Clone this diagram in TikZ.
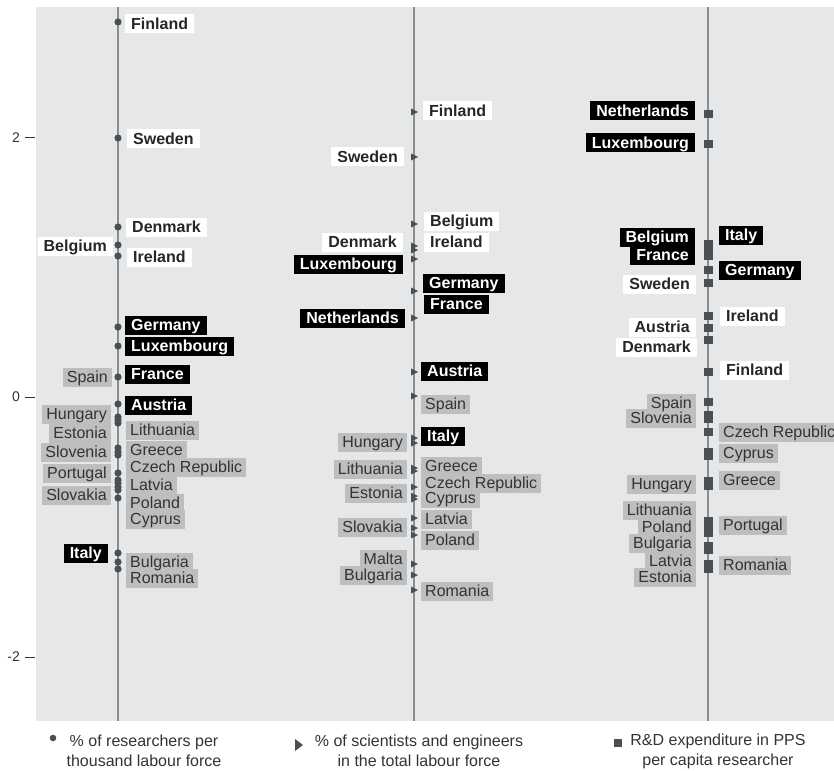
\documentclass[tikz,border=0pt]{standalone}
\usepackage{fontspec}
\setmainfont{Liberation Sans}
\definecolor{bg}{HTML}{E6E7E9}
\definecolor{axisc}{HTML}{8C8D8F}
\definecolor{mk}{HTML}{4A4F51}
\definecolor{gbox}{HTML}{BDBEC0}
\definecolor{dtext}{HTML}{262626}
\definecolor{gtext}{HTML}{333333}
\tikzset{
  lab/.style={inner ysep=1pt, text height=14pt, text depth=3pt},
  lbw/.style={lab, fill=white, inner xsep=6pt, text=dtext, font=\fontsize{16}{18}\selectfont\bfseries},
  lbk/.style={lab, fill=black, inner xsep=6pt, text=white, font=\fontsize{16}{18}\selectfont\bfseries},
  lbg/.style={lab, fill=gbox, inner xsep=4pt, text=gtext, font=\fontsize{16}{18}\selectfont},
  ticklab/.style={anchor=east, inner sep=0pt, text=gtext, font=\fontsize{14}{16}\selectfont},
  legend/.style={align=center, inner sep=0pt, text=gtext, font=\fontsize{16}{20}\selectfont},
  axisline/.style={axisc, line width=2.5pt},
}
\newcommand{\labelsA}{lbw/west/125/24/Finland, lbw/west/127/139/Sweden, lbw/west/126/227/Denmark, lbw/east/113/246/Belgium, lbw/west/127/257/Ireland, lbk/west/125/325/Germany, lbk/west/125/346/Luxembourg, lbk/west/125/374/France, lbg/east/112/377/Spain, lbk/west/125/405/Austria, lbg/east/111/414/Hungary, lbg/east/111/433/Estonia, lbg/west/126/430/Lithuania, lbg/east/111/452/Slovenia, lbg/west/126/450/Greece, lbg/west/126/467/Czech Republic, lbg/east/111/473/Portugal, lbg/west/126/485/Latvia, lbg/east/111/495/Slovakia, lbg/west/126/503/Poland, lbg/west/126/519/Cyprus, lbk/east/108/553/Italy, lbg/west/126/562/Bulgaria, lbg/west/126/578/Romania}
\newcommand{\labelsB}{lbw/west/423/111/Finland, lbw/east/404/157/Sweden, lbw/west/424/221/Belgium, lbw/west/424/242/Ireland, lbw/east/403/242/Denmark, lbk/east/403/264/Luxembourg, lbk/west/423/283/Germany, lbk/west/424/304/France, lbk/east/405/318/Netherlands, lbk/west/421/371/Austria, lbg/west/421/404/Spain, lbk/west/421/436/Italy, lbg/east/407/442/Hungary, lbg/east/407/469/Lithuania, lbg/west/421/466/Greece, lbg/west/421/483/Czech Republic, lbg/east/407/493/Estonia, lbg/west/421/498/Cyprus, lbg/west/421/519/Latvia, lbg/east/407/527/Slovakia, lbg/west/421/540/Poland, lbg/east/407/559/Malta, lbg/east/407/575/Bulgaria, lbg/west/421/591/Romania}
\newcommand{\labelsC}{lbk/east/695/111/Netherlands, lbk/east/695/143/Luxembourg, lbk/east/695/237/Belgium, lbk/east/695/255/France, lbk/west/719/235/Italy, lbk/west/719/270/Germany, lbw/east/696/284/Sweden, lbw/west/720/316/Ireland, lbw/east/696/327/Austria, lbw/east/697/347/Denmark, lbw/west/720/370/Finland, lbg/east/696/403/Spain, lbg/east/696/418/Slovenia, lbg/west/719/432/Czech Republic, lbg/west/719/453/Cyprus, lbg/east/696/484/Hungary, lbg/west/719/480/Greece, lbg/east/696/510/Lithuania, lbg/east/696/527/Poland, lbg/east/696/543/Bulgaria, lbg/east/696/561/Latvia, lbg/east/696/577/Estonia, lbg/west/719/525/Portugal, lbg/west/719/565/Romania}
\begin{document}
\begin{tikzpicture}[x=1pt,y=-1pt]
\useasboundingbox (0,0) rectangle (834,770);
\fill[bg] (36,7) rectangle (834,721);
% axes
\coordinate (a1t) at (118,7); \coordinate (a1b) at (118,721);
\coordinate (a2t) at (414,7); \coordinate (a2b) at (414,721);
\coordinate (a3t) at (708,7); \coordinate (a3b) at (708,721);
\draw[axisline] (a1t) -- (a1b);
\draw[axisline] (a2t) -- (a2b);
\draw[axisline] (a3t) -- (a3b);
% ticks
\foreach \v/\yy in {2/138, 0/397, -2/657} {
  \node[ticklab] (tk\v) at (20,\yy) {\v};
  \draw[gtext, line width=1pt] (25,\yy) -- (35,\yy);
}
% markers column 1
\foreach \yy in {22,138,227,245,256,327,346,377,404,417,420,423,448,452,455,473,480,483,487,490,498,553,562,569}
  \fill[mk] (118,\yy) circle (3.6pt);
% markers column 2
\foreach \yy in {112,157,224,246,250,259,291,318,372,396,438,443,468,471,487,496,499,518,528,535,564,575,590}
  \fill[mk] (411,\yy-3.5) -- (418,\yy) -- (411,\yy+3.5) -- cycle;
% markers column 3
\foreach \yy in {114,144,244,250,256,270,283,316,328,340,372,402,415,419,432,452,456,481,486,521,527,533,546,550,564,569}
  \fill[mk] (703.5,\yy-4) rectangle (712.5,\yy+4);
% label boxes
\foreach \s/\a/\x/\yy/\t [count=\i] in \labelsA
  \node[\s, anchor=\a, text opacity=0] (ba\i) at (\x,\yy) {\t};
\foreach \s/\a/\x/\yy/\t [count=\i] in \labelsB
  \node[\s, anchor=\a, text opacity=0] (bb\i) at (\x,\yy) {\t};
\foreach \s/\a/\x/\yy/\t [count=\i] in \labelsC
  \node[\s, anchor=\a, text opacity=0] (bc\i) at (\x,\yy) {\t};
% label texts
\foreach \s/\a/\x/\yy/\t [count=\i] in \labelsA
  \node[\s, anchor=\a, fill=none] (la\i) at (\x,\yy) {\t};
\foreach \s/\a/\x/\yy/\t [count=\i] in \labelsB
  \node[\s, anchor=\a, fill=none] (lb\i) at (\x,\yy) {\t};
\foreach \s/\a/\x/\yy/\t [count=\i] in \labelsC
  \node[\s, anchor=\a, fill=none] (lc\i) at (\x,\yy) {\t};
% legend
\fill[mk] (53,738) circle (3.3pt);
\node[legend] (lg1) at (144,751) {\% of researchers per\\thousand labour force};
\fill[mk] (295,739) -- (303,745) -- (295,751) -- cycle;
\node[legend] (lg2) at (419,751) {\% of scientists and engineers\\in the total labour force};
\fill[mk] (614,739) rectangle (622,747);
\node[legend] (lg3) at (718,751) {R\&D expenditure in PPS\\per capita researcher};
\end{tikzpicture}
\end{document}
